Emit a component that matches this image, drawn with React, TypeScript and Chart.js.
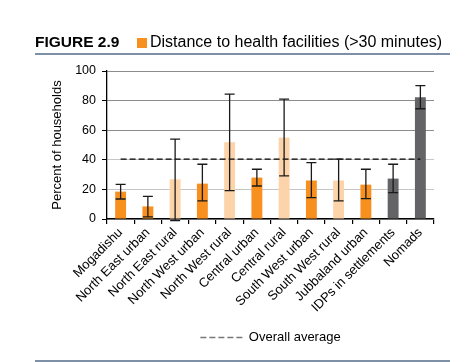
import React, { useEffect, useRef } from "react";
import { Chart, registerables } from "chart.js";

Chart.register(...registerables);

const categories = [
  "Mogadishu",
  "North East urban",
  "North East rural",
  "North West urban",
  "North West rural",
  "Central urban",
  "Central rural",
  "South West urban",
  "South West rural",
  "Jubbaland urban",
  "IDPs in settlements",
  "Nomads",
];
const values = [18.5, 8.5, 26.8, 23.9, 51.9, 28, 55, 26, 26, 23.2, 27.3, 82.2];
const errLow = [13.5, 1.5, -1, 12.2, 19.2, 22.3, 29.1, 14.4, 12.2, 13.8, 17.8, 74.5];
const errHigh = [23.4, 15.3, 54, 37, 84.4, 33.6, 81, 38.1, 40.4, 33.6, 37, 90.1];
const groups = ["urban", "urban", "rural", "urban", "rural", "urban", "rural", "urban", "rural", "urban", "other", "other"];
const overallAverage = 40.4;
const yTicks = [0, 20, 40, 60, 80, 100];

const groupColors: Record<string, string> = {
  urban: "#F7901E",
  rural: "#FDD4AA",
  other: "#646466",
};

const FONT = "'Liberation Sans', Arial, Helvetica, sans-serif";

const errorBarPlugin = {
  id: "errorBars",
  afterDatasetsDraw(chart: any) {
    const { ctx, scales } = chart;
    const x = scales.x;
    const y = scales.y;
    ctx.save();
    ctx.strokeStyle = "#1a1a1a";
    ctx.lineWidth = 1.3;
    const cap = 5;
    categories.forEach((_, i) => {
      const px = x.getPixelForValue(i);
      const yHi = y.getPixelForValue(errHigh[i]);
      const yLo = y.getPixelForValue(errLow[i]);
      ctx.beginPath();
      ctx.moveTo(px, yHi);
      ctx.lineTo(px, yLo);
      ctx.moveTo(px - cap, yHi);
      ctx.lineTo(px + cap, yHi);
      ctx.moveTo(px - cap, yLo);
      ctx.lineTo(px + cap, yLo);
      ctx.stroke();
    });
    ctx.restore();
  },
};

export default function App() {
  const ref = useRef<HTMLCanvasElement | null>(null);

  useEffect(() => {
    if (!ref.current) return;
    Chart.defaults.font.family = FONT;
    const chart = new Chart(ref.current, {
      type: "bar",
      data: {
        labels: categories,
        datasets: [
          {
            type: "line" as any,
            label: "Overall average",
            data: categories.map(() => overallAverage),
            borderColor: "#000",
            borderWidth: 1.3,
            borderDash: [6, 3],
            pointRadius: 0,
            fill: false,
            order: 0,
          } as any,
          {
            type: "bar",
            label: "Distance to health facilities",
            data: values,
            backgroundColor: groups.map((g) => groupColors[g]),
            borderWidth: 0,
            barPercentage: 0.4,
            categoryPercentage: 1,
            order: 1,
          },
        ],
      },
      options: {
        animation: false,
        responsive: false,
        devicePixelRatio: 1,
        layout: { padding: { left: 0, right: 37, top: 71, bottom: 8 } },
        plugins: {
          tooltip: { enabled: false },
          legend: {
            position: "bottom",
            fullSize: false,
            labels: {
              usePointStyle: true,
              pointStyleWidth: 42,
              color: "#000",
              font: { size: 13, family: FONT },
              padding: 10,
              generateLabels: () => [
                {
                  text: "Overall average",
                  fillStyle: "transparent",
                  strokeStyle: "#777",
                  lineWidth: 1.5,
                  lineDash: [6, 3],
                  pointStyle: "line",
                  hidden: false,
                  datasetIndex: 0,
                  fontColor: "#000",
                } as any,
              ],
            },
          },
        },
        scales: {
          x: {
            offset: true,
            grid: {
              offset: true,
              drawOnChartArea: false,
              drawTicks: true,
              tickLength: 5,
              color: "#000",
              lineWidth: 1.2,
            },
            border: { color: "#000", width: 1.3 },
            ticks: {
              autoSkip: false,
              minRotation: 45,
              maxRotation: 45,
              padding: 1,
              color: "#000",
              font: { size: 13, family: FONT },
            },
            afterFit: (scale: any) => {
              scale.height = 102;
            },
          },
          y: {
            min: 0,
            max: 100,
            afterBuildTicks: (scale: any) => {
              scale.ticks = yTicks.map((v) => ({ value: v }));
            },
            grid: {
              color: (c: any) => (c.tick && (c.tick.value === 20 || c.tick.value === 40) ? "#c6c6c6" : "#8c8c8c"),
              tickColor: "#000",
              tickLength: 5,
              lineWidth: 1,
            },
            border: { color: "#000", width: 1.3 },
            ticks: {
              color: "#000",
              padding: 6,
              font: { size: 12.5, family: FONT },
            },
            title: {
              display: true,
              text: "Percent of households",
              color: "#000",
              font: { size: 13, family: FONT },
              padding: { top: 50, bottom: 0 },
            },
            afterFit: (scale: any) => {
              scale.width = 107;
            },
          },
        },
      },
      plugins: [errorBarPlugin],
    });
    return () => chart.destroy();
  }, []);

  return (
    <div
      style={{
        position: "fixed",
        left: 0,
        top: 0,
        width: 471,
        height: 362,
        background: "#fff",
        fontFamily: FONT,
        color: "#000",
      }}
    >
      <canvas ref={ref} width={471} height={362} style={{ position: "absolute", left: 0, top: 0, width: 471, height: 362 }} />
      <div style={{ position: "absolute", left: 35, top: 34, fontSize: 15.5, lineHeight: "16px", fontWeight: "bold", whiteSpace: "nowrap" }}>
        FIGURE 2.9
      </div>
      <div style={{ position: "absolute", left: 137, top: 38, width: 10, height: 9.5, background: "#F7901E" }} />
      <div style={{ position: "absolute", left: 150, top: 34, fontSize: 16, lineHeight: "16px", whiteSpace: "nowrap" }}>
        Distance to health facilities (&gt;30 minutes)
      </div>
      <div style={{ position: "absolute", left: 35, top: 52.5, width: 415, height: 2, background: "#7d90a5" }} />
      <div style={{ position: "absolute", left: 35, top: 360, width: 415, height: 2, background: "#7d90a5" }} />
    </div>
  );
}
